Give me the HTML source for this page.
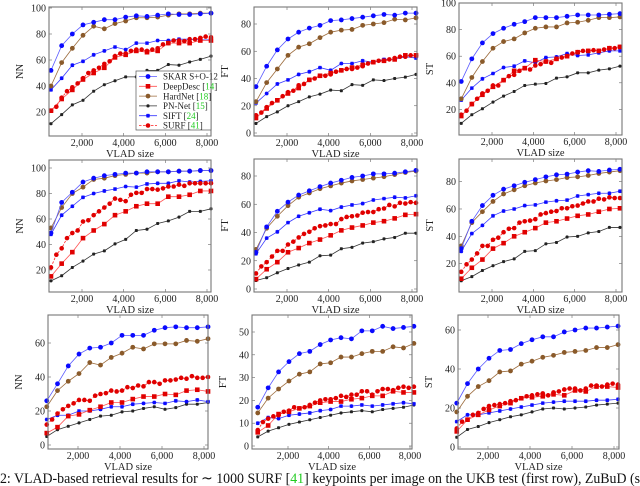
<!DOCTYPE html>
<html><head><meta charset="utf-8">
<style>
html,body{margin:0;padding:0;background:#fff;width:640px;height:486px;overflow:hidden;}
body{position:relative;font-family:"Liberation Serif",serif;}
#chart{position:absolute;left:0;top:0;overflow:hidden;}
#chart text{font-family:"Liberation Serif",serif;}
</style></head>
<body>
<svg id="chart" width="640" height="486" viewBox="0 0 640 486" xmlns="http://www.w3.org/2000/svg">
<text x="0" y="483" font-size="15" fill="#111" textLength="640" lengthAdjust="spacingAndGlyphs">2: VLAD-based retrieval results for ∼ 1000 SURF [<tspan fill="#2c2">41</tspan>] keypoints per image on the UKB test (first row), ZuBuD (s</text>
</svg>
<script>
// data: x positions (VLAD size)
const xMain = [512,1024,1536,2048,2560,3072,3584,4096,4608,5120,5632,6144,6656,7168,7680,8192];
const xSurf = [512,768,1024,1280,1536,1792,2048,2304,2560,2816,3072,3328,3584,3840,4096,4352,4608,4864,5120,5376,5632,5888,6144,6400,6656,6912,7168,7424,7680,7936,8192];
const xTicks = [2000,4000,6000,8000];
const xTickLabels = ["2,000","4,000","6,000","8,000"];
const seriesNames = ["SKAR S+O-12","DeepDesc","HardNet","PN-Net","SIFT","SURF"];
const seriesRefs = ["","14","18","15","24","41"];

// Row 1 (UKB) NN
const p1Skar = [52,71,80,87,89,91,91,93,94,93.5,94.5,95.5,95,95,95.5,96];
const p1Hard = [40,58,69,79,86,84,88,90,92.5,92.5,93,94.5,95.5,95.5,96,96];
const p1Sift = [37,46,56,59,64,67,70,68,73,73,75,75,76,76,75.5,75.5];
const p1Deep = [21,30,37,45,50,54,62,64,67,66,67,73,73,73,75,75];
const p1Pn = [11,18,25.5,29,36,41,44,47,47,52,52,56.5,56,58.5,60.5,63];
const p1Surf = [21,24,31,36,39,42,46,50,52,54,57,59,63,65,65,67,68,68,67,68,69,72,73,75,75,74.5,76,76,77,78,77.5];
// Row 1 FT
const p2Skar = [34,49,61,69,74,77,79,82.5,83,84,85,86,87,86.5,88,88];
const p2Hard = [23,37,47,57,63,65.5,70,74,75.5,76,79,80,81,83.5,83,84.5];
const p2Sift = [22,29,36,39,43,45,48,46,51,51,53,52,54,54,56,55];
const p2Deep = [11,18,24,29,33,39,42,44,46,48,50,52,53,54,57,57];
const p2Pn = [7,12,15.5,20,23,26.5,28.5,31.5,31,35.5,35,39,38.5,40,41,43];
const p2Surf = [13,15,19,22,24,27,30,31,35,36,39,40,42,42,43,45,46,47,47,48,49,51,52,53,53,54,55,56,56,57,57];
// Row 1 ST
const p3Skar = [41,58,70,77,81,84,86,89,89,89,90,91,91,91,91.5,92];
const p3Hard = [28,44,56,66,71,73,77.5,81,82,82,85,85.5,87,89,89,89.5];
const p3Sift = [27,36,43,47,51.5,52.5,56.5,55,59,59.5,62,60.5,61,62.5,64,64];
const p3Deep = [15,24,31,37,42,49,51,57,56,58,60,63,64,64,66,67];
const p3Pn = [9.5,16,20.5,25.5,30,33.5,38,39,39.5,43.5,44.5,47.5,47.5,49.5,50.5,52.5];
const p3Surf = [16,19,24,28,32,34,38,38,42,45,46,49,51,50,53,54,56,55,58,59,60,62,63,64,64,64.5,64,65,66,66,67];
// Row 2 NN
const p4Skar = [49,73,81,89,92,94,95,96,96,97,97,97,97.5,97.5,98,98];
const p4Hard = [53,69,80,85,91,92,94,95,96,96,97,97,97.5,97.5,98,98];
const p4Sift = [48,63,70,77,80,82,83.5,85.5,85,87.5,88,88,90,89,89.5,90];
const p4Deep = [15,25,34,45,51,56,63,66,70,72,72,77.5,77.5,79,82,82];
const p4Pn = [11.5,15.5,22,27,32.5,35,40.5,44,51,52,56.5,58.5,61.5,66,66,68];
const p4Surf = [22,32,37,45,49,51,58,59,63,66,69,72,76,75,74,79,80.5,80.5,83.5,83.5,83,84,85.5,85.5,87,86,88,88,88,88,88];
// Row 2 FT
const p5Skar = [26,44,55,61.5,66.5,69.5,72.5,75,77,79,80,81.5,81.5,82,83,84];
const p5Hard = [28,43,51.5,59,65,68,71,73,75,76.5,77.5,78.5,79.5,81,82.5,83.5];
const p5Sift = [25,36,40.5,47,51.5,54,56.5,55.5,58,59.5,60.5,63,64,65,64.5,66];
const p5Deep = [7,14,19,26,29,32.5,35,38,41.5,43.5,45,47,48,50,52.5,53];
const p5Pn = [6,8,11.5,14.5,17,19,23.5,24,28.5,29.5,32.5,33.5,35.5,36.5,39.5,39.5];
const p5Surf = [11,16,19,23,27,27,31.5,33.5,36.5,39,40.5,43,44.5,45,46,46,49.5,51,51.5,52,54,54.5,54.5,56.5,57,59.5,58.5,61,60.5,61.5,61];
// Row 2 ST
const p6Skar = [31,51,62.5,70,74.5,77,79.5,81.5,83.5,85,85.5,87,88,87.5,88.5,89];
const p6Hard = [33,50,58,65.5,71,74,77,79,80.5,81.5,83,83.5,84.5,86,87,88];
const p6Sift = [29,42,48,55,58.5,60,62.5,63,65,66,66.5,69.5,70.5,71.5,71.5,73];
const p6Deep = [9,17,23,31,35,40,43,46,50,51,53,55,56,58,60,60.5];
const p6Pn = [7.5,10.5,15,18.5,21.5,23.5,29,29.5,34.5,35.5,39.5,40,42.5,43.5,46.5,46.5];
const p6Surf = [14,19.5,23,27.5,33,33,37.5,39,43,45.5,46,50,51,51.5,52.5,56,57,58,58.5,60.5,60.5,62,62.5,64,65.5,65.5,67.5,67,68.5,68,68];
// Row 3 NN
const p7Skar = [26,36,46.5,53.5,57,57.5,60,64.5,64.5,64.5,67.5,69,69.5,69,69,69.5];
const p7Hard = [22.5,32,37.5,42,48.5,47,51.5,54,57.5,56.5,59.5,59.5,59.5,61.5,61,62.5];
const p7Sift = [15,17.5,17.5,20,20,21,22.5,22.5,24,24.5,25,24.5,26,25.5,26.5,25.5];
const p7Deep = [7,10.5,17,18,20.5,22.5,25,25,27,28.5,28.5,30,29.5,32,32.5,31.5];
const p7Pn = [5,9,11,13,15,17,17.5,19.5,20,21.5,22.5,21,22,24,24,25];
const p7Surf = [12,15,18.5,21,23,24.5,26.5,26.5,26,29,30,30.5,32,31.5,32,34,33.5,35,34.5,37,37,36,38,38,38.5,39.5,39,40.5,39.5,39.5,40];
// Row 3 FT
const p8Skar = [17,25.5,32.5,37,40.5,41.5,44.5,46.5,47.5,47,50.5,50.5,52.5,51.5,52,52.5];
const p8Hard = [14.5,21,25,28.5,31.5,32.5,36,36.5,39,39,40.5,41.5,41.5,43.5,43,45];
const p8Sift = [10,12.5,12,13.5,14,14.5,15.5,16,17.5,17.5,18,17.5,18,18.5,19,18.5];
const p8Deep = [6,9,14,15,16.5,17.5,19,19.5,19.5,20.5,21,22,22,24,23.5,23.5];
const p8Pn = [4,6.5,8,9.5,10.5,11.5,12.5,13.5,14.5,15,15.5,15,16,16.5,17,18];
const p8Surf = [7,10.5,12,13,13.5,15,15.5,17,16.5,17,18,19,20,20.5,20.5,21,22,21.5,22.5,22.5,24,24,22.5,24,25,25,24.5,25.5,26,25.5,26];
// Row 3 ST
const p9Skar = [22.5,32.5,40,45.5,49.5,50,53,55,56.5,56.5,59,60,61,61,61.5,62];
const p9Hard = [18,26,31,34,38.5,39,42.5,44,46,47,48.5,49,49.5,51,51,52.5];
const p9Sift = [13,16.5,16.5,17.5,18.5,19.5,20.5,21.5,22.5,23,23.5,23.5,23.5,24,24,24.5];
const p9Deep = [8,14,16.5,19,21,22.5,25,25.5,26,27,26.5,29,28.5,31,31,30.5];
const p9Pn = [5,9,10.5,12.5,14,15.5,16.5,18,19.5,20,19.5,20,20.5,21.5,22,22.5];
const p9Surf = [9.5,13,14,16.5,17.5,19.5,21,21.5,22,22.5,23.5,24,25,26,26.5,27,27.5,26.5,28,28.5,29.5,30,30,29,30,31.5,31.5,31,32,32.5,32];

const yTicks1 = [20,40,60,80,100];
const yTicks2 = [0,20,40,60,80];
const yTicks3 = [20,40,60,80];
const yTicks7 = [0,20,40,60];
const yTicks8 = [0,10,20,30,40,50];

const NS='http://www.w3.org/2000/svg';
const svg=document.getElementById('chart');
function mk(tag,attrs,parent){const e=document.createElementNS(NS,tag);for(const k in attrs)e.setAttribute(k,attrs[k]);(parent||svg).appendChild(e);return e;}

const panels=[
 {id:'ukb-nn',L:49,T:7,R:211,B:136,x2:82,x8:207,y0:138,k:1.3,ticks:yTicks1,title:'NN',d:[p1Skar,p1Deep,p1Hard,p1Pn,p1Sift,p1Surf],legend:true},
 {id:'ukb-ft',L:254,T:7,R:417,B:136,x2:287,x8:412,y0:133,k:1.3625,ticks:yTicks2,title:'FT',d:[p2Skar,p2Deep,p2Hard,p2Pn,p2Sift,p2Surf]},
 {id:'ukb-st',L:459,T:3,R:622,B:135,x2:492,x8:616,y0:136,k:1.33,ticks:yTicks1,title:'ST',d:[p3Skar,p3Deep,p3Hard,p3Pn,p3Sift,p3Surf]},
 {id:'row2-nn',L:49,T:160,R:211,B:292,x2:82,x8:207,y0:295.5,k:1.275,ticks:yTicks1,title:'NN',d:[p4Skar,p4Deep,p4Hard,p4Pn,p4Sift,p4Surf]},
 {id:'row2-ft',L:254,T:159,R:417,B:292,x2:287,x8:412,y0:289,k:1.4125,ticks:yTicks2,title:'FT',d:[p5Skar,p5Deep,p5Hard,p5Pn,p5Sift,p5Surf]},
 {id:'row2-st',L:459,T:159,R:622,B:292,x2:492,x8:616,y0:291,k:1.367,ticks:yTicks3,title:'ST',d:[p6Skar,p6Deep,p6Hard,p6Pn,p6Sift,p6Surf]},
 {id:'row3-nn',L:48,T:315,R:208,B:449,x2:78,x8:204,y0:445,k:1.7,ticks:yTicks7,title:'NN',d:[p7Skar,p7Deep,p7Hard,p7Pn,p7Sift,p7Surf]},
 {id:'row3-ft',L:252,T:315,R:412,B:449,x2:288,x8:410,y0:446,k:2.28,ticks:yTicks8,title:'FT',d:[p8Skar,p8Deep,p8Hard,p8Pn,p8Sift,p8Surf]},
 {id:'row3-st',L:458,T:315,R:619,B:449,x2:488,x8:614,y0:447,k:1.95,ticks:yTicks7,title:'ST',d:[p9Skar,p9Deep,p9Hard,p9Pn,p9Sift,p9Surf]}
];
const styles=[
 {c:'#0a0aff',lc:'#5a5aff',m:'circle',r:2.4,dash:''},
 {c:'#e00000',lc:'#ff5050',m:'square',r:2.3,dash:''},
 {c:'#8a5a2a',lc:'#9c6b3c',m:'circle',r:2.4,dash:''},
 {c:'#222',lc:'#333',m:'star',r:1.5,dash:''},
 {c:'#0a0aff',lc:'#3a3aff',m:'star',r:1.9,dash:''},
 {c:'#e00000',lc:'#ff2020',m:'circle',r:2.3,dash:'2.5,1.5'}
];
const keys=['skar','deepdesc','hardnet','pn-net','sift','surf'];

function marker(g,st,x,y){
  let e;
  if(st.m==='circle') e=mk('circle',{cx:x,cy:y,r:st.r,fill:st.c},g);
  else if(st.m==='square') e=mk('rect',{x:x-st.r,y:y-st.r,width:2*st.r,height:2*st.r,fill:st.c},g);
  else { e=mk('path',{d:`M${x-st.r},${y}H${x+st.r}M${x},${y-st.r}V${y+st.r}M${x-st.r*0.8},${y-st.r*0.8}L${x+st.r*0.8},${y+st.r*0.8}M${x-st.r*0.8},${y+st.r*0.8}L${x+st.r*0.8},${y-st.r*0.8}`,stroke:st.c,'stroke-width':1.1,fill:'none'},g); }
  
  
  return e;
}

panels.forEach(p=>{
  const g=mk('g',{});
  
  
  const sx=v=>p.x2+(v-2000)*(p.x8-p.x2)/6000;
  const sy=v=>p.y0-v*p.k;
  xTicks.forEach((t,i)=>{
    const X=sx(t);
    mk('line',{x1:X,x2:X,y1:p.B,y2:p.B-3,stroke:'#666','stroke-width':0.6},g);
    mk('line',{x1:X,x2:X,y1:p.T,y2:p.T+3,stroke:'#666','stroke-width':0.6},g);
    const tx=mk('text',{x:X,y:p.B+10,'text-anchor':'middle','font-size':10,fill:'#222'},g);
    tx.textContent=xTickLabels[i];
    
    
  });
  p.ticks.forEach(t=>{
    const Y=sy(t);
    mk('line',{x1:p.L,x2:p.L+3,y1:Y,y2:Y,stroke:'#666','stroke-width':0.6},g);
    mk('line',{x1:p.R,x2:p.R-3,y1:Y,y2:Y,stroke:'#666','stroke-width':0.6},g);
    const tx=mk('text',{x:p.L-3,y:Y+3.5,'text-anchor':'end','font-size':10,fill:'#222'},g);
    tx.textContent=String(t);
    
    
  });
  const xl=mk('text',{x:(p.L+p.R)/2,y:p.B+21,'text-anchor':'middle','font-size':10.5,fill:'#222'},g);
  xl.textContent='VLAD size';
  
  
  const yx=p.L-26, yy=(p.T+p.B)/2;
  const yl=mk('text',{x:yx,y:yy,'text-anchor':'middle','font-size':10.5,fill:'#222',transform:`rotate(-90 ${yx} ${yy})`},g);
  yl.textContent=p.title;
  
  
  const order=[3,4,1,5,2,0];
  order.forEach(si=>{
    const st=styles[si], vals=p.d[si], xs=(si===5)?xSurf:xMain;
    const sg=mk('g',{},g);
    
    
    const pts=vals.map((v,i)=>sx(xs[i]).toFixed(2)+','+sy(v).toFixed(2)).join(' ');
    const ln=mk('polyline',{points:pts,fill:'none',stroke:st.lc,'stroke-width':0.8,'stroke-dasharray':st.dash},sg);
    
    
    vals.forEach((v,i)=>marker(sg,st,sx(xs[i]),sy(v)));
  });
  const fr=mk('rect',{x:p.L,y:p.T,width:p.R-p.L,height:p.B-p.T,fill:'none',stroke:'#777','stroke-width':1.1},g);
  
  
  if(p.legend){
    const lg=mk('g',{},g);
    
    
    mk('rect',{x:136,y:71,width:75,height:59,fill:'#fff',stroke:'#555','stroke-width':0.7},lg);
    seriesNames.forEach((n,i)=>{
      const st=styles[i], Y=76.5+i*9.8;
      const eg=mk('g',{},lg);
      
      
      mk('line',{x1:139,x2:157,y1:Y,y2:Y,stroke:st.lc,'stroke-width':0.8,'stroke-dasharray':st.dash},eg);
      marker(eg,st,148,Y);
      const t=mk('text',{x:163,y:Y+3.2,'font-size':9,fill:'#222'},eg);
      t.textContent=n+(seriesRefs[i]?' [':'');
      if(seriesRefs[i]){
        const s=mk('tspan',{fill:'#2c2'},t); s.textContent=seriesRefs[i];
        const s2=mk('tspan',{},t); s2.textContent=']';
      }
    });
  }
});
</script>
</body></html>
